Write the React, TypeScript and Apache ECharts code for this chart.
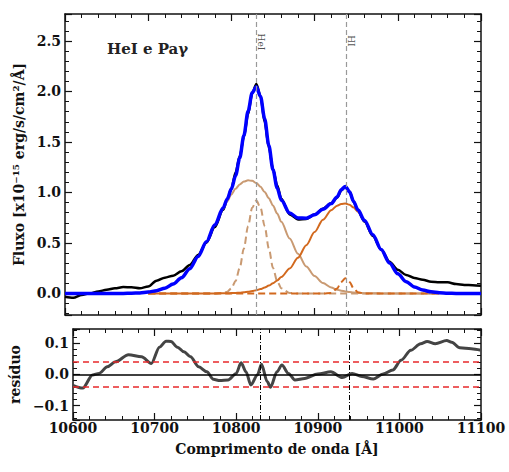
import React, { useEffect, useRef } from "react";
import * as echarts from "echarts";

const FONT = '"DejaVu Serif", serif';

// wavelength grid (Å)
const wl = [
  10600, 10610, 10620, 10630, 10640, 10650, 10660, 10670, 10680, 10690,
  10700, 10710, 10720, 10730, 10740, 10750, 10760, 10770, 10780, 10790,
  10795, 10800, 10805, 10810, 10815, 10820, 10825, 10830, 10835, 10840,
  10845, 10850, 10855, 10860,
  10870, 10880, 10890, 10900, 10910, 10920,
  10927, 10932, 10937, 10942, 10947, 10952,
  10960, 10970, 10980, 10990, 11000, 11010, 11020, 11030, 11040, 11050, 11060, 11070, 11080, 11090, 11100,
];

// observed flux (black)
const observed = [
  -0.033, -0.043, -0.015, 0.002, 0.02, 0.037, 0.052, 0.063, 0.061, 0.051,
  0.069, 0.126, 0.157, 0.176, 0.22, 0.283, 0.381, 0.503, 0.657, 0.828,
  0.927, 1.039, 1.198, 1.359, 1.55, 1.773, 1.982, 2.074, 1.954, 1.695,
  1.445, 1.232, 1.071, 0.938,
  0.783, 0.733, 0.738, 0.781, 0.84, 0.894,
  0.949, 1.02, 1.058, 1.009, 0.907, 0.822,
  0.712, 0.569, 0.436, 0.314, 0.235, 0.184, 0.153, 0.136, 0.116, 0.11, 0.11, 0.093, 0.084, 0.082, 0.077,
];

// total fit (blue)
const fit = [
  0, 0, 0, 0, 0, 0, 0, 0, 0.003, 0.006,
  0.014, 0.028, 0.052, 0.093, 0.156, 0.246, 0.367, 0.513, 0.677, 0.846,
  0.935, 1.036, 1.166, 1.341, 1.565, 1.803, 1.988, 2.046, 1.949, 1.73,
  1.465, 1.224, 1.044, 0.923,
  0.796, 0.748, 0.746, 0.78, 0.834, 0.89,
  0.956, 1.028, 1.06, 1.006, 0.909, 0.828,
  0.722, 0.582, 0.435, 0.302, 0.195, 0.117, 0.065, 0.034, 0.016, 0.007, 0.003, 0.001, 0, 0, 0,
];

const N = null;
// broad HeI component (tan, solid)
const broadHeI = [
  N, N, N, N, N, N, N, N, N, N,
  0.014, 0.028, 0.052, 0.093, 0.156, 0.246, 0.367, 0.513, 0.676, 0.839,
  0.914, 0.981, 1.037, 1.08, 1.108, 1.12, 1.115, 1.093, 1.056, 1.005,
  0.942, 0.87, 0.792, 0.709,
  0.544, 0.394, 0.268, 0.172, 0.104, 0.059,
  0.038, 0.028, 0.02, 0.014, 0.009, 0.006,
  0.003, 0.002, 0.001, 0, 0, 0, 0, 0, 0, 0, N, N, N, N, N,
];

// narrow HeI component (tan, dashed)
const narrowHeI = [
  N, N, N, N, N, N, N, N, N, N,
  0, 0, 0, 0, 0, 0, 0, 0, 0, 0.005,
  0.018, 0.051, 0.123, 0.253, 0.445, 0.666, 0.849, 0.92, 0.849, 0.666,
  0.445, 0.253, 0.123, 0.051,
  0.005, 0, 0, 0, 0, 0,
  0, 0, 0, 0, 0, 0,
  0, 0, 0, 0, 0, 0, 0, 0, 0, 0, N, N, N, N, N,
];

// broad Pa-gamma component (orange, solid)
const broadPa = [
  N, N, N, N, N, N, N, N, N, N,
  0, 0, 0, 0, 0, 0, 0, 0, 0.001, 0.002,
  0.003, 0.004, 0.006, 0.008, 0.012, 0.017, 0.024, 0.033, 0.044, 0.059,
  0.078, 0.101, 0.129, 0.163,
  0.247, 0.354, 0.478, 0.608, 0.73, 0.825,
  0.869, 0.886, 0.89, 0.878, 0.851, 0.81,
  0.719, 0.58, 0.434, 0.302, 0.195, 0.117, 0.065, 0.034, 0.016, 0.007, N, N, N, N, N,
];

// narrow Pa-gamma component (orange, dashed)
const narrowPa = [
  N, N, N, N, N, N, N, N, N, N,
  0, 0, 0, 0, 0, 0, 0, 0, 0, 0,
  0, 0, 0, 0, 0, 0, 0, 0, 0, 0,
  0, 0, 0, 0,
  0, 0, 0, 0, 0, 0.006,
  0.049, 0.114, 0.15, 0.114, 0.049, 0.012,
  0, 0, 0, 0, 0, 0, 0, 0, 0, 0, N, N, N, N, N,
];

// residuals
const resWl = [
  10600, 10612, 10624, 10632, 10642, 10652, 10668, 10684, 10696, 10706,
  10714, 10720, 10728, 10736, 10744, 10754, 10764, 10772, 10780, 10790,
  10800, 10806, 10812, 10818, 10826, 10831, 10838, 10842, 10850, 10856,
  10864, 10872, 10884, 10900, 10916, 10930, 10942, 10954, 10968, 10980,
  10992, 11002, 11014, 11026, 11034, 11044, 11058, 11064, 11074, 11088,
  11100,
];
const resVal = [
  -0.035, -0.044, -0.002, 0.003, 0.024, 0.04, 0.063, 0.056, 0.035, 0.087,
  0.106, 0.105, 0.087, 0.072, 0.056, 0.024, 0.008, -0.016, -0.02, -0.018,
  0.003, 0.037, 0.008, -0.034, -0.002, 0.032, -0.023, -0.041, 0.008, 0.03,
  0.003, -0.018, -0.013, 0.001, 0.008, -0.01, 0.003, -0.007, -0.015, 0.001,
  0.014, 0.045, 0.077, 0.098, 0.105, 0.098, 0.108, 0.103, 0.085, 0.082,
  0.077,
];

const lineNames = ["HeI", "HI"];
const lineWl = [10830, 10938];
const lineLabelY = [2.49, 2.5];
const resBand = [0.035, -0.035];

function pairs(xs: number[], ys: (number | null)[]) {
  const out: number[][] = [];
  xs.forEach((x, i) => {
    const y = ys[i];
    if (y !== null && y !== undefined) out.push([x, y]);
  });
  return out;
}

const frameLine = { show: true, onZero: false, lineStyle: { color: "#111", width: 1.5 } };
const tick = { show: true, inside: true, length: 7, lineStyle: { color: "#111", width: 1.2 } };
const minor = { show: true, splitNumber: 5, length: 4, lineStyle: { color: "#111", width: 1 } };

function xAx(gridIndex: number, position: string, labels: boolean, extra: any = {}) {
  return {
    type: "value",
    gridIndex,
    position,
    min: 10600,
    max: 11100,
    interval: 100,
    axisLine: frameLine,
    axisTick: tick,
    minorTick: minor,
    splitLine: { show: false },
    axisLabel: labels
      ? {
          show: true,
          margin: 1,
          color: "#111",
          fontFamily: FONT,
          fontWeight: "bold",
          fontSize: 14,
          formatter: (v: number) => String(Math.round(v)),
        }
      : { show: false },
    ...extra,
  };
}

function yAx(gridIndex: number, position: string, labels: boolean, min: number, max: number, split: number, step: number, extra: any = {}) {
  return {
    type: "value",
    gridIndex,
    position,
    min,
    max,
    splitNumber: split,
    axisLine: frameLine,
    axisTick: tick,
    minorTick: minor,
    splitLine: { show: false },
    axisLabel: labels
      ? {
          show: true,
          margin: 4,
          showMinLabel: false,
          showMaxLabel: false,
          color: "#111",
          fontFamily: FONT,
          fontWeight: "bold",
          fontSize: 14,
          formatter: (v: number) => {
            const k = v / step;
            if (Math.abs(k - Math.round(k)) > 1e-6) return "";
            return v.toFixed(1).replace("-", "\u2212");
          },
        }
      : { show: false },
    ...extra,
  };
}

export default function App() {
  const ref = useRef<HTMLDivElement>(null);
  useEffect(() => {
    if (!ref.current) return;
    const chart = echarts.init(ref.current, undefined, { renderer: "svg" });
    const tan = "#c99a72";
    const orange = "#d2691e";
    const comp = (name: string, vals: (number | null)[], color: string, dashed: boolean) => ({
      type: "line",
      name,
      xAxisIndex: 0,
      yAxisIndex: 0,
      data: pairs(wl, vals),
      showSymbol: false,
      smooth: 0.3,
      smoothMonotone: "x",
      lineStyle: dashed ? { color, width: 2, type: [7, 4] } : { color, width: 2 },
      z: 3,
    });
    const option: any = {
      animation: false,
      backgroundColor: "#fff",
      grid: [
        { left: 65, right: 28, top: 14, height: 301 },
        { left: 65, right: 28, top: 329, height: 91 },
      ],
      xAxis: [
        xAx(0, "bottom", false),
        xAx(0, "top", false),
        xAx(1, "bottom", true, {
          name: "Comprimento de onda [Å]",
          nameLocation: "middle",
          nameGap: 22,
          nameTextStyle: { fontFamily: FONT, fontWeight: "bold", fontSize: 14, color: "#111" },
        }),
        xAx(1, "top", false),
      ],
      yAxis: [
        yAx(0, "left", true, -0.213, 2.767, 5, 0.5, {
          name: "Fluxo [x10\u207B\u00B9\u2075 erg/s/cm\u00B2/Å]",
          nameLocation: "middle",
          nameGap: 33,
          nameTextStyle: { fontFamily: FONT, fontWeight: "bold", fontSize: 14, color: "#111" },
        }),
        yAx(0, "right", false, -0.213, 2.767, 5, 0.5),
        yAx(1, "left", true, -0.146, 0.145, 3, 0.1, {
          name: "resíduo",
          nameLocation: "middle",
          nameGap: 44,
          nameTextStyle: { fontFamily: FONT, fontWeight: "bold", fontSize: 14, color: "#111" },
        }),
        yAx(1, "right", false, -0.146, 0.145, 3, 0.1),
      ],
      graphic: [
        {
          type: "text",
          left: 107,
          top: 41,
          style: { text: "HeI e Paγ", fontFamily: FONT, fontWeight: "bold", fontSize: 15, fill: "#222" },
        },
      ],
      series: [
        {
          type: "line",
          name: "observed",
          xAxisIndex: 0,
          yAxisIndex: 0,
          data: pairs(wl, observed),
          showSymbol: false,
          smooth: 0.3,
          smoothMonotone: "x",
          lineStyle: { color: "#000", width: 2.5 },
          z: 2,
        },
        comp("broadHeI", broadHeI, tan, false),
        comp("narrowHeI", narrowHeI, tan, true),
        comp("broadPa", broadPa, orange, false),
        comp("narrowPa", narrowPa, orange, true),
        {
          type: "line",
          name: "fit",
          xAxisIndex: 0,
          yAxisIndex: 0,
          data: pairs(wl, fit),
          showSymbol: false,
          smooth: 0.3,
          smoothMonotone: "x",
          lineStyle: { color: "#0000ff", width: 3.5 },
          z: 4,
        },
        {
          type: "scatter",
          name: "lines",
          xAxisIndex: 0,
          yAxisIndex: 0,
          symbolSize: 0,
          data: lineWl.map((x, i) => [x, lineLabelY[i], lineNames[i]]),
          label: {
            show: true,
            position: "inside",
            rotate: -90,
            align: "center",
            verticalAlign: "bottom",
            formatter: (p: any) => p.value[2],
            fontFamily: FONT,
            fontSize: 9,
            color: "#222",
          },
          markLine: {
            silent: true,
            symbol: ["none", "none"],
            label: { show: false },
            lineStyle: { color: "#999", type: [5, 3], width: 1.2 },
            data: lineWl.map((x) => ({ xAxis: x })),
          },
          z: 6,
        },
        {
          type: "line",
          name: "residual",
          xAxisIndex: 2,
          yAxisIndex: 2,
          data: pairs(resWl, resVal),
          showSymbol: false,
          smooth: 0.3,
          smoothMonotone: "x",
          lineStyle: { color: "#444", width: 3 },
          z: 3,
          markLine: {
            silent: true,
            symbol: ["none", "none"],
            label: { show: false },
            data: [
              { yAxis: 0, lineStyle: { color: "#000", type: "solid", width: 1.5 } },
              ...resBand.map((v) => ({ yAxis: v, lineStyle: { color: "#e8282b", type: [6, 4], width: 1.5 } })),
              ...lineWl.map((x) => ({ xAxis: x, lineStyle: { color: "#000", type: [5, 2, 1, 2], width: 1 } })),
            ],
          },
        },
      ],
    };
    chart.setOption(option);
    return () => chart.dispose();
  }, []);
  return (
    <div
      ref={ref}
      style={{ position: "fixed", left: 0, top: 0, width: 509, height: 472, background: "#fff" }}
    />
  );
}
